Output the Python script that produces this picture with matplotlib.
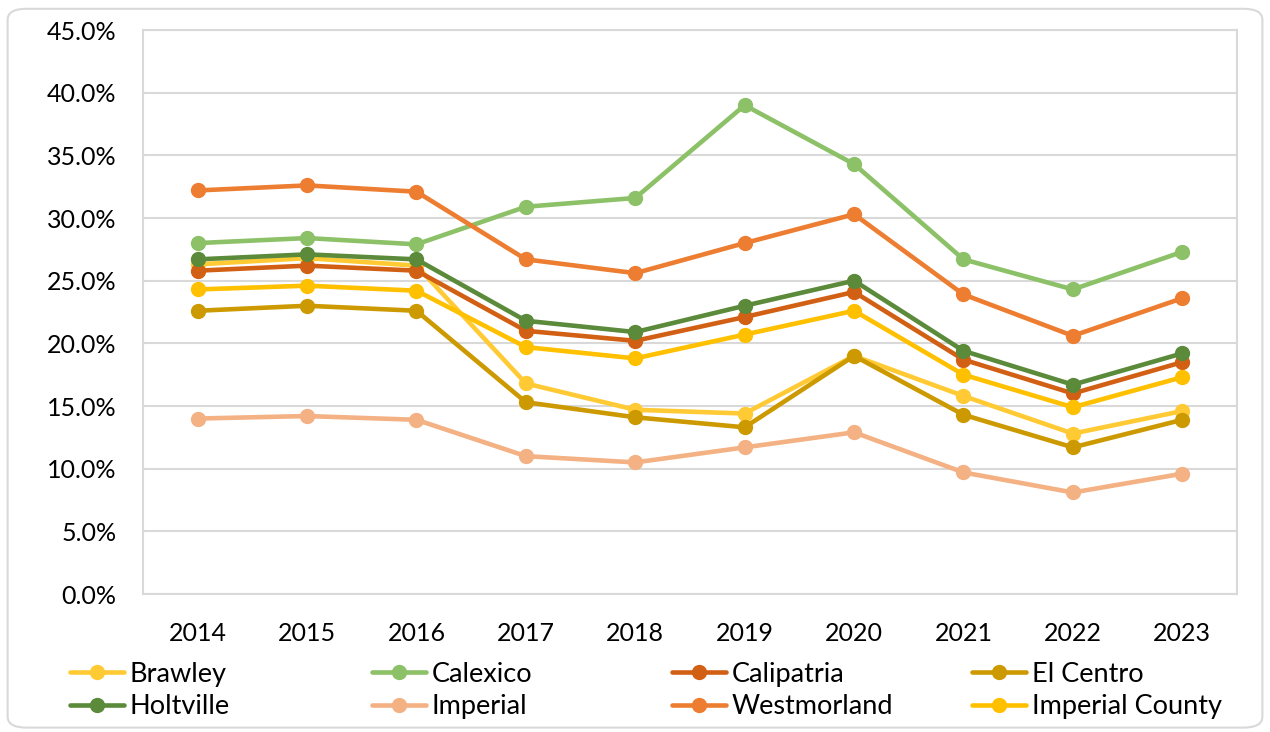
import matplotlib
matplotlib.use("Agg")
import matplotlib.pyplot as plt
from matplotlib.patches import FancyBboxPatch
from matplotlib.ticker import PercentFormatter

years = [2014, 2015, 2016, 2017, 2018, 2019, 2020, 2021, 2022, 2023]

brawley = [26.3, 26.8, 26.2, 16.8, 14.7, 14.4, 19.0, 15.8, 12.8, 14.6]
calexico = [28.0, 28.4, 27.9, 30.9, 31.6, 39.0, 34.3, 26.7, 24.3, 27.3]
calipatria = [25.8, 26.2, 25.8, 21.0, 20.2, 22.1, 24.1, 18.7, 16.0, 18.5]
el_centro = [22.6, 23.0, 22.6, 15.3, 14.1, 13.3, 19.0, 14.3, 11.7, 13.9]
holtville = [26.7, 27.1, 26.7, 21.8, 20.9, 23.0, 25.0, 19.4, 16.7, 19.2]
imperial = [14.0, 14.2, 13.9, 11.0, 10.5, 11.7, 12.9, 9.7, 8.1, 9.6]
westmorland = [32.2, 32.6, 32.1, 26.7, 25.6, 28.0, 30.3, 23.9, 20.6, 23.6]
imperial_county = [24.3, 24.6, 24.2, 19.7, 18.8, 20.7, 22.6, 17.5, 14.9, 17.3]

names = ["Brawley", "Calexico", "Calipatria", "El Centro",
         "Holtville", "Imperial", "Westmorland", "Imperial County"]
series = [brawley, calexico, calipatria, el_centro,
          holtville, imperial, westmorland, imperial_county]
colors = ["#FFCA33", "#8CC168", "#D26014", "#CC9A00",
          "#5A8A3A", "#F4B183", "#ED7D31", "#FFC000"]

plt.rcParams['font.family'] = ['Lato', 'DejaVu Sans']
fs = 18

fig = plt.figure(figsize=(12.7, 7.32), dpi=100)
ax = fig.add_axes([0.1126, 0.1885, 0.8614, 0.7705])

# outer chart border
border = FancyBboxPatch((0.006, 0.006), 0.988, 0.982,
                        boxstyle="round,pad=0,rounding_size=0.015",
                        transform=fig.transFigure, fill=False,
                        edgecolor="#D9D9D9", linewidth=1.5)
fig.patches.append(border)

lines = []
for name, vals, c in zip(names, series, colors):
    ln, = ax.plot(years, vals, color=c, linewidth=3.3, marker="o",
                  markersize=10, label=name, solid_capstyle="round")
    lines.append(ln)

ax.set_ylim(0, 45)
ax.set_yticks(range(0, 46, 5))
ax.yaxis.set_major_formatter(PercentFormatter(decimals=1))
ax.set_xlim(2013.5, 2023.5)
ax.set_xticks(years)
ax.grid(axis="y", color="#D9D9D9", linewidth=1.5)
ax.set_axisbelow(True)
for s in ax.spines.values():
    s.set_color("#D9D9D9")
    s.set_linewidth(1.5)
ax.tick_params(length=0, labelsize=fs, colors="#000000")
ax.tick_params(axis="y", pad=19)
ax.tick_params(axis="x", pad=20)

# legend: one column per legend so columns are evenly spaced like Excel
col_x = [70, 372, 672, 972]
for k in range(4):
    idx = [k, k + 4]
    fig.legend([lines[i] for i in idx], [names[i] for i in idx],
               loc="upper left", bbox_to_anchor=(col_x[k] / 1270, 0.096),
               frameon=False, fontsize=19.5, handlelength=2.0,
               handletextpad=0.2, labelspacing=0.28,
               borderpad=0, borderaxespad=0)

fig.savefig("out.png", dpi=100)
